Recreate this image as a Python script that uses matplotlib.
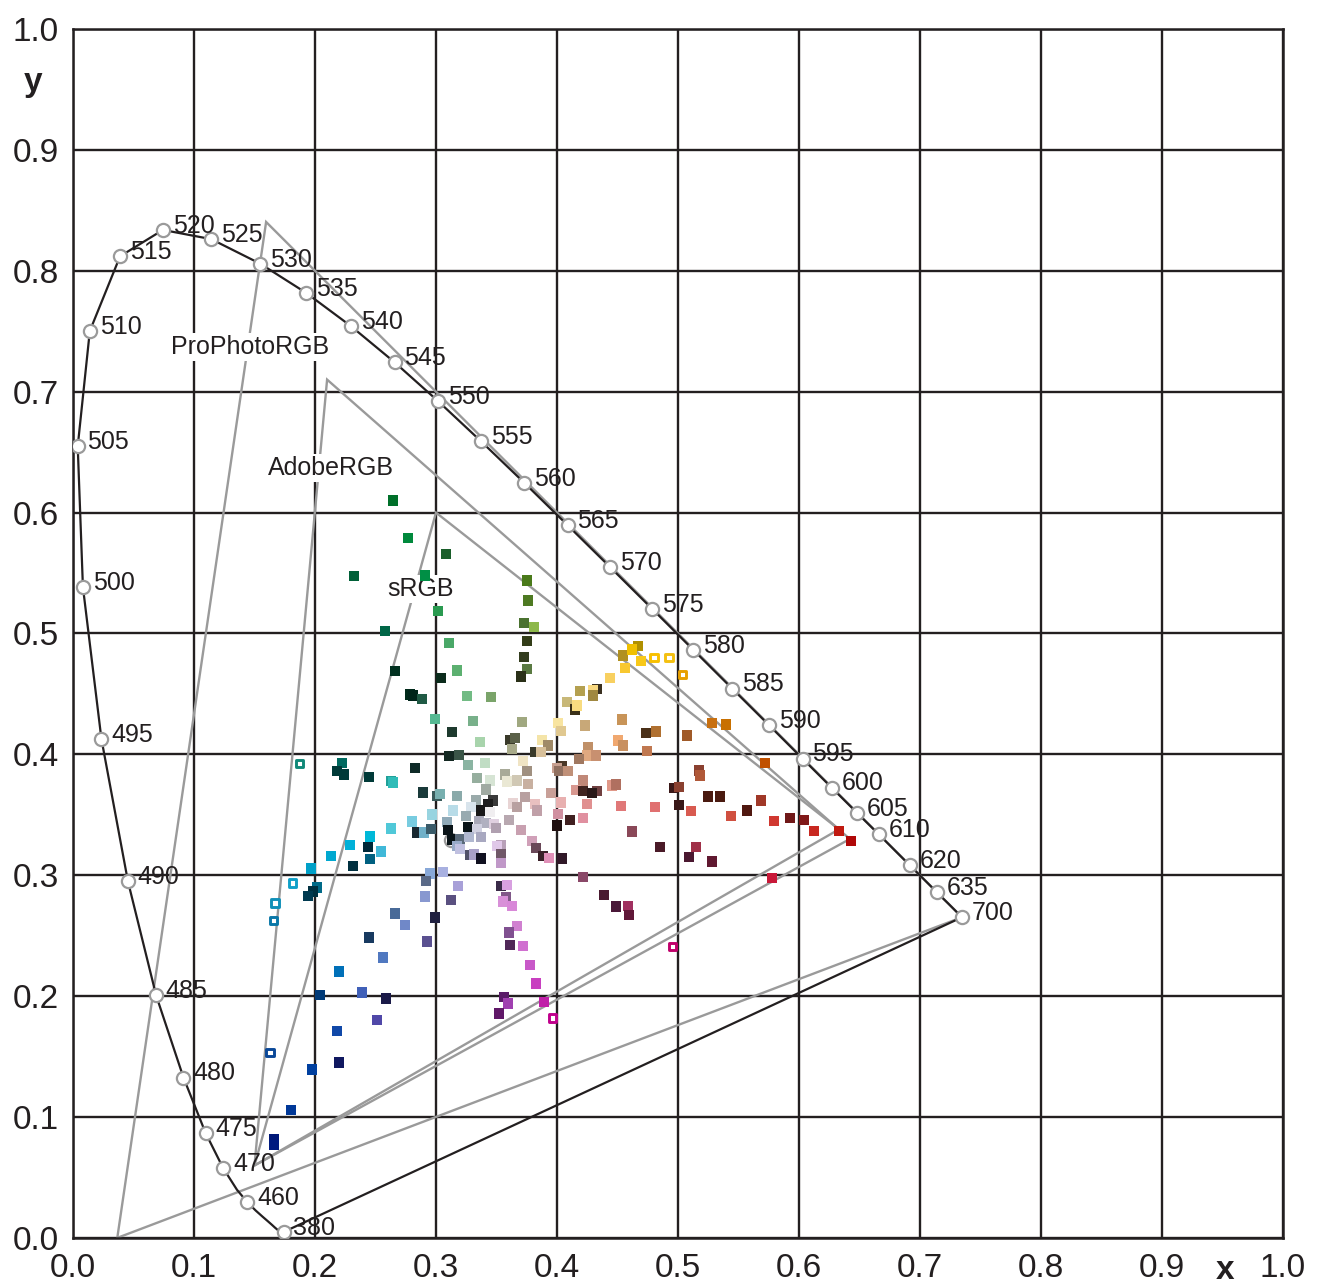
import numpy as np
import matplotlib
matplotlib.use("Agg")
import matplotlib.pyplot as plt
from matplotlib.ticker import MultipleLocator

plt.rcParams['font.family'] = ['Liberation Sans', 'DejaVu Sans']

# CIE 1931 spectral locus, 5 nm steps
wl = list(range(380, 705, 5))
loc_x = [0.1741, 0.1740, 0.1738, 0.1736, 0.1733, 0.1730, 0.1726, 0.1721, 0.1714, 0.1703,
         0.1689, 0.1669, 0.1644, 0.1611, 0.1566, 0.1510, 0.1440, 0.1355, 0.1241, 0.1096,
         0.0913, 0.0687, 0.0454, 0.0235, 0.0082, 0.0039, 0.0139, 0.0389, 0.0743, 0.1142,
         0.1547, 0.1929, 0.2296, 0.2658, 0.3016, 0.3373, 0.3731, 0.4087, 0.4441, 0.4788,
         0.5125, 0.5448, 0.5752, 0.6029, 0.6270, 0.6482, 0.6658, 0.6801, 0.6915, 0.7006,
         0.7079, 0.7140, 0.7190, 0.7230, 0.7260, 0.7283, 0.7300, 0.7311, 0.7320, 0.7327,
         0.7334, 0.7340, 0.7344, 0.7346, 0.7347]
loc_y = [0.0050, 0.0050, 0.0049, 0.0049, 0.0048, 0.0048, 0.0048, 0.0048, 0.0051, 0.0058,
         0.0069, 0.0086, 0.0109, 0.0138, 0.0177, 0.0227, 0.0297, 0.0399, 0.0578, 0.0868,
         0.1327, 0.2007, 0.2950, 0.4127, 0.5384, 0.6548, 0.7502, 0.8120, 0.8338, 0.8262,
         0.8059, 0.7816, 0.7543, 0.7243, 0.6923, 0.6589, 0.6245, 0.5896, 0.5547, 0.5202,
         0.4866, 0.4544, 0.4242, 0.3965, 0.3725, 0.3514, 0.3340, 0.3197, 0.3083, 0.2993,
         0.2920, 0.2859, 0.2809, 0.2770, 0.2740, 0.2717, 0.2700, 0.2689, 0.2680, 0.2673,
         0.2666, 0.2660, 0.2656, 0.2654, 0.2653]
marked = [380, 460, 470, 475, 480, 485, 490, 495, 500, 505, 510, 515, 520, 525, 530,
          535, 540, 545, 550, 555, 560, 565, 570, 575, 580, 585, 590, 595, 600, 605,
          610, 620, 635, 700]

# gamut triangles (red, green, blue)
gamuts = {
    'ProPhotoRGB': [(0.7347, 0.2653), (0.1596, 0.8404), (0.0366, 0.0001)],
    'AdobeRGB': [(0.642, 0.330), (0.210, 0.710), (0.150, 0.060)],
    'sRGB': [(0.633, 0.338), (0.300, 0.600), (0.150, 0.060)],
}
gamut_label_pos = {'ProPhotoRGB': (0.1463, 0.7368), 'AdobeRGB': (0.2132, 0.6366),
                   'sRGB': (0.2876, 0.5364)}
white_pt = (0.3127, 0.3290)

# colour samples (filled squares)
samples = [
    (0.2642, 0.6101, '#00702a'), (0.2766, 0.5789, '#00893c'), (0.3080, 0.5657, '#1a5e2a'),
    (0.2322, 0.5474, '#006038'), (0.2907, 0.5480, '#008f45'), (0.3014, 0.5185, '#2a9a50'),
    (0.2579, 0.5019, '#006647'), (0.3107, 0.4920, '#4aa868'), (0.2661, 0.4688, '#00301f'),
    (0.3039, 0.4630, '#0b2b1c'), (0.2785, 0.4495, '#002a1a'), (0.2812, 0.4487, '#00251a'),
    (0.2882, 0.4456, '#205a45'), (0.2992, 0.4291, '#55b892'), (0.3750, 0.5439, '#4a7a1a'),
    (0.3758, 0.5273, '#4e7a22'), (0.3727, 0.5085, '#4a7230'), (0.3810, 0.5052, '#8db84a'),
    (0.3750, 0.4936, '#333d18'), (0.3727, 0.4804, '#333d1e'), (0.3750, 0.4705, '#5a7a42'),
    (0.3702, 0.4644, '#2a3018'), (0.3171, 0.4694, '#5cb070'), (0.3254, 0.4481, '#72bb84'),
    (0.3452, 0.4473, '#7aa46a'), (0.3303, 0.4274, '#78b08a'), (0.3130, 0.4183, '#1e3a2e'),
    (0.3708, 0.4266, '#a0a880'), (0.3612, 0.4120, '#3a3a2a'), (0.3653, 0.4137, '#5a6048'),
    (0.3364, 0.4100, '#a8d4ac'), (0.3626, 0.4046, '#a8aa8a'), (0.3107, 0.3984, '#142822'),
    (0.3190, 0.3998, '#3a5548'), (0.2826, 0.3885, '#0e2a28'), (0.3262, 0.3913, '#8ab4a2'),
    (0.3405, 0.3926, '#c0ddc4'), (0.3336, 0.3802, '#96ae9e'), (0.3446, 0.3783, '#d6e4d4'),
    (0.3570, 0.3833, '#a8aa98'), (0.3667, 0.3783, '#d0c8b4'), (0.3584, 0.3775, '#eae8d4'),
    (0.3413, 0.3709, '#a0aaa2'), (0.2890, 0.3686, '#1a3a3a'), (0.3006, 0.3653, '#3a5a5a'),
    (0.3033, 0.3673, '#78b0b0'), (0.3171, 0.3653, '#8aaaaa'), (0.3331, 0.3618, '#9aaaaa'),
    (0.3474, 0.3618, '#3a3a3a'), (0.3432, 0.3590, '#1e1e1e'), (0.3369, 0.3535, '#181818'),
    (0.3446, 0.3521, '#f0eef0'), (0.3287, 0.3562, '#d8e4ec'), (0.3758, 0.3756, '#c8b0a0'),
    (0.3750, 0.3860, '#a09080'), (0.3717, 0.3943, '#f0e4c4'), (0.3874, 0.4120, '#f4e4a8'),
    (0.3928, 0.4073, '#a08a68'), (0.3818, 0.4017, '#3a3a2a'), (0.3865, 0.4017, '#d8c09a'),
    (0.4011, 0.4257, '#f8e4a0'), (0.4031, 0.4191, '#e0c890'), (0.4080, 0.4431, '#c8b878'),
    (0.4149, 0.4371, '#3a3018'), (0.4163, 0.4404, '#f8dc80'), (0.4190, 0.4522, '#b4a050'),
    (0.4328, 0.4542, '#3a3020'), (0.4300, 0.4528, '#f8d880'), (0.4295, 0.4487, '#a08840'),
    (0.4231, 0.4238, '#c8a878'), (0.4438, 0.4630, '#f8d060'), (0.4543, 0.4818, '#b09020'),
    (0.4667, 0.4895, '#b09000'), (0.4617, 0.4868, '#f0c000'), (0.4562, 0.4713, '#f8c830'),
    (0.4692, 0.4771, '#f8c818'), (0.4535, 0.4288, '#c89458'), (0.4507, 0.4114, '#f0a870'),
    (0.4543, 0.4073, '#c89060'), (0.4259, 0.4059, '#c09068'), (0.4245, 0.3990, '#e0a880'),
    (0.4322, 0.3990, '#c89070'), (0.4182, 0.3963, '#a07860'), (0.4736, 0.4175, '#4a3018'),
    (0.4818, 0.4189, '#b07030'), (0.5072, 0.4156, '#a05a28'), (0.4741, 0.4031, '#c07850'),
    (0.4044, 0.3899, '#4a3828'), (0.3998, 0.3885, '#c8a090'), (0.4019, 0.3860, '#907060'),
    (0.4093, 0.3860, '#c09078'), (0.4217, 0.3783, '#c08878'), (0.4155, 0.3706, '#d89890'),
    (0.4217, 0.3700, '#402420'), (0.4328, 0.3700, '#704040'), (0.4292, 0.3678, '#2a1818'),
    (0.4455, 0.3742, '#e09888'), (0.4488, 0.3750, '#b07060'), (0.3948, 0.3678, '#c8a098'),
    (0.3736, 0.3645, '#b8a0a0'), (0.3818, 0.3590, '#e8c0c0'), (0.3634, 0.3595, '#e8d4d4'),
    (0.3667, 0.3562, '#b8a0a0'), (0.3832, 0.3535, '#c0a0a8'), (0.4031, 0.3603, '#e8b0b0'),
    (0.4250, 0.3590, '#e09090'), (0.4529, 0.3576, '#e07878'), (0.4810, 0.3562, '#e07070'),
    (0.4967, 0.3723, '#3a1818'), (0.5011, 0.3728, '#8a4030'), (0.5008, 0.3582, '#3a1818'),
    (0.5105, 0.3529, '#d85a50'), (0.5174, 0.3866, '#8a4030'), (0.5182, 0.3825, '#b05838'),
    (0.4006, 0.3507, '#d090a0'), (0.4212, 0.3474, '#e090a0'), (0.4107, 0.3458, '#402020'),
    (0.3998, 0.3411, '#201010'), (0.4620, 0.3363, '#8a4858'), (0.2964, 0.3502, '#98d4e0'),
    (0.3138, 0.3535, '#b8dce8'), (0.2799, 0.3446, '#78cce0'), (0.3088, 0.3438, '#90aab8'),
    (0.3245, 0.3493, '#98aab0'), (0.3267, 0.3397, '#0a1418'), (0.3358, 0.3452, '#a8a8b8'),
    (0.3411, 0.3430, '#b0b0c0'), (0.3336, 0.3383, '#d0d0e0'), (0.3479, 0.3425, '#e0d0e0'),
    (0.3493, 0.3392, '#b0a0b0'), (0.3603, 0.3460, '#b8a8b0'), (0.3702, 0.3375, '#c8a0b0'),
    (0.2840, 0.3355, '#182830'), (0.2901, 0.3355, '#70b0c8'), (0.2956, 0.3383, '#3a5a68'),
    (0.3097, 0.3375, '#0a1418'), (0.3130, 0.3295, '#0a1418'), (0.3198, 0.3295, '#5a6a7a'),
    (0.3171, 0.3243, '#98aac8'), (0.3198, 0.3218, '#c0c0e0'), (0.3369, 0.3314, '#a8a8c0'),
    (0.3273, 0.3314, '#b0b8d0'), (0.3535, 0.3253, '#b8a0b8'), (0.3502, 0.3245, '#e0c8e8'),
    (0.3791, 0.3281, '#d0a0b8'), (0.3824, 0.3226, '#6a4858'), (0.3887, 0.3162, '#3a2028'),
    (0.3934, 0.3143, '#e090b8'), (0.4044, 0.3140, '#301828'), (0.3537, 0.3176, '#705868'),
    (0.3537, 0.3099, '#c098c8'), (0.3281, 0.3169, '#505068'), (0.3314, 0.3171, '#a8a0c8'),
    (0.3372, 0.3140, '#101020'), (0.2950, 0.3016, '#88a8d8'), (0.3055, 0.3030, '#a8b0e0'),
    (0.2917, 0.2955, '#5a6a88'), (0.4212, 0.2988, '#8a4868'), (0.2909, 0.2825, '#8898d0'),
    (0.3179, 0.2914, '#a8a0d8'), (0.3124, 0.2798, '#5a5080'), (0.3537, 0.2914, '#3a2a48'),
    (0.3584, 0.2922, '#d8a0e0'), (0.3579, 0.2823, '#805888'), (0.3551, 0.2784, '#d890d8'),
    (0.3626, 0.2748, '#d888d8'), (0.4391, 0.2839, '#4a1a30'), (0.4485, 0.2743, '#4a1838'),
    (0.4584, 0.2748, '#a03060'), (0.4595, 0.2674, '#601838'), (0.2992, 0.2652, '#202040'),
    (0.3667, 0.2583, '#d080d0'), (0.3603, 0.2527, '#805090'), (0.3612, 0.2425, '#502858'),
    (0.3717, 0.2417, '#d070d0'), (0.3777, 0.2260, '#c858c8'), (0.3826, 0.2105, '#c840c0'),
    (0.3562, 0.1995, '#5a1a68'), (0.3593, 0.1940, '#a040b0'), (0.3523, 0.1857, '#601868'),
    (0.3893, 0.1954, '#c020a8'), (0.2014, 0.2900, '#006a88'), (0.1981, 0.2867, '#003040'),
    (0.1940, 0.2831, '#003a50'), (0.2661, 0.2685, '#486a98'), (0.2744, 0.2589, '#7088c8'),
    (0.2446, 0.2486, '#183a60'), (0.2923, 0.2453, '#5a5090'), (0.2560, 0.2320, '#5078c0'),
    (0.2198, 0.2204, '#0070b8'), (0.2041, 0.2012, '#003a78'), (0.2388, 0.2031, '#4060b8'),
    (0.2587, 0.1981, '#1a1a48'), (0.2512, 0.1805, '#5048a8'), (0.2179, 0.1714, '#1048a8'),
    (0.2196, 0.1451, '#101860'), (0.1973, 0.1393, '#0040a0'), (0.1799, 0.1060, '#003898'),
    (0.1661, 0.0820, '#001878'), (0.1661, 0.0770, '#001a80'), (0.2221, 0.3926, '#006a60'),
    (0.2184, 0.3860, '#003a38'), (0.2240, 0.3833, '#003a38'), (0.2444, 0.3816, '#003a38'),
    (0.2626, 0.3777, '#20a098'), (0.2642, 0.3767, '#30bcb8'), (0.2628, 0.3388, '#50c8d8'),
    (0.2455, 0.3320, '#00b8d8'), (0.2436, 0.3237, '#002838'), (0.2543, 0.3198, '#40b8d8'),
    (0.2289, 0.3248, '#00b0d8'), (0.2455, 0.3135, '#006080'), (0.2312, 0.3074, '#003040'),
    (0.2132, 0.3162, '#00a8d0'), (0.1967, 0.3057, '#00a0c8'), (0.5283, 0.4257, '#c87010'),
    (0.5397, 0.4247, '#c87000'), (0.5719, 0.3926, '#c05000'), (0.5250, 0.3651, '#4a1a10'),
    (0.5347, 0.3651, '#4a1a10'), (0.5438, 0.3493, '#d05040'), (0.5568, 0.3535, '#501810'),
    (0.5686, 0.3618, '#a03828'), (0.5793, 0.3452, '#d03830'), (0.5926, 0.3471, '#701818'),
    (0.6044, 0.3458, '#801818'), (0.6124, 0.3369, '#c82820'), (0.6331, 0.3369, '#c01a10'),
    (0.6427, 0.3281, '#b00808'), (0.4851, 0.3237, '#4a1a28'), (0.5149, 0.3237, '#a03048'),
    (0.5091, 0.3154, '#4a1830'), (0.5281, 0.3115, '#601830'), (0.5777, 0.2980, '#c81838'),
]
sq_x = [s[0] for s in samples]
sq_y = [s[1] for s in samples]
sq_c = [s[2] for s in samples]

# out-of-gamut samples (open squares)
hol_x = [0.4802, 0.4926, 0.5039, 0.3964, 0.4953, 0.1812, 0.1669, 0.1655, 0.1628, 0.1870]
hol_y = [0.4804, 0.4804, 0.4661, 0.1819, 0.2411, 0.2936, 0.2771, 0.2624, 0.1534, 0.3926]
hol_c = ['#f8c000', '#f4c010', '#e8a000', '#c0008c', '#c0006a', '#10a0c8', '#1090b8',
         '#0a78a8', '#0a4898', '#108878']

ink = '#231f20'
grey = '#9a9a9a'

fig = plt.figure(figsize=(13.24, 12.85), dpi=100)
ax = fig.add_axes([73 / 1324, 1 - 1238 / 1285, 1210 / 1324, 1209 / 1285])
ax.set_xlim(0, 1)
ax.set_ylim(0, 1)
ax.xaxis.set_major_locator(MultipleLocator(0.1))
ax.yaxis.set_major_locator(MultipleLocator(0.1))
ax.xaxis.set_major_formatter(lambda v, p: f'{v:.1f}')
ax.yaxis.set_major_formatter(lambda v, p: f'{v:.1f}')
ax.tick_params(length=0, labelsize=24, colors=ink, pad=10)
ax.tick_params(axis='x', pad=11)
ax.grid(True, color=ink, lw=1.7, zorder=0)
ax.set_axisbelow(True)
for sp in ax.spines.values():
    sp.set_color(ink)
    sp.set_linewidth(1.8)

# gamut triangles
for name, pts in gamuts.items():
    tx = [p[0] for p in pts] + [pts[0][0]]
    ty = [p[1] for p in pts] + [pts[0][1]]
    ax.plot(tx, ty, color=grey, lw=1.7, zorder=2, solid_joinstyle='miter')
    lx, ly = gamut_label_pos[name]
    ax.text(lx, ly, name, fontsize=18, color=ink, ha='center', va='center', zorder=3,
            bbox=dict(facecolor='white', edgecolor='none', pad=1.5))

# spectral locus with purple line
ax.plot(loc_x + [loc_x[0]], loc_y + [loc_y[0]], color=ink, lw=1.6, zorder=2.5,
        solid_joinstyle='round')

# white point
ax.plot(*white_pt, 'o', ms=9.5, mfc='white', mec=grey, mew=1.6, zorder=2.6)

# samples
ax.scatter(sq_x, sq_y, s=7.4 ** 2, c=sq_c, marker='s', linewidths=0, zorder=4)
ax.scatter(hol_x, hol_y, s=5.2 ** 2, facecolors='white', edgecolors=hol_c, marker='s',
           linewidths=2.1, zorder=4)

# wavelength markers
for w in marked:
    i = wl.index(w)
    ax.plot(loc_x[i], loc_y[i], 'o', ms=9.5, mfc='white', mec=grey, mew=1.6, zorder=5)
    ax.annotate(str(w), (loc_x[i], loc_y[i]), xytext=(7, 3), textcoords='offset points',
                fontsize=18, color=ink, ha='left', va='center', zorder=6)

ax.text(0.952, -0.027, 'x', transform=ax.transAxes, fontsize=24, fontweight='bold',
        color=ink, ha='center', va='center')
ax.text(-0.033, 0.956, 'y', transform=ax.transAxes, fontsize=24, fontweight='bold',
        color=ink, ha='center', va='center')

fig.savefig('out.png', dpi=100)
